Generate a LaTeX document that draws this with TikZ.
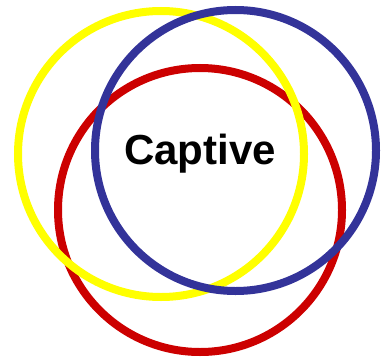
\documentclass[tikz,border=0pt]{standalone}
\usepackage{fontspec}
\setmainfont{Liberation Sans}
\definecolor{ringyellow}{HTML}{FFFF00}
\definecolor{ringblue}{HTML}{333399}
\definecolor{ringred}{HTML}{CC0000}
\begin{document}
\begin{tikzpicture}[x=1pt,y=1pt,
  ring/.style={line width=8pt}]
\useasboundingbox (0,0) rectangle (382,362);
\draw[ring, ringred] (200,152) circle[radius=142];
\draw[ring, ringyellow] (161,208) circle[radius=143];
\draw[ring, ringblue] (235.5,211.5) circle[radius=140.5];
\node[font=\bfseries\fontsize{42}{48}\selectfont, inner sep=0pt] (t) at (200,208) {Captive};
\end{tikzpicture}
\end{document}
